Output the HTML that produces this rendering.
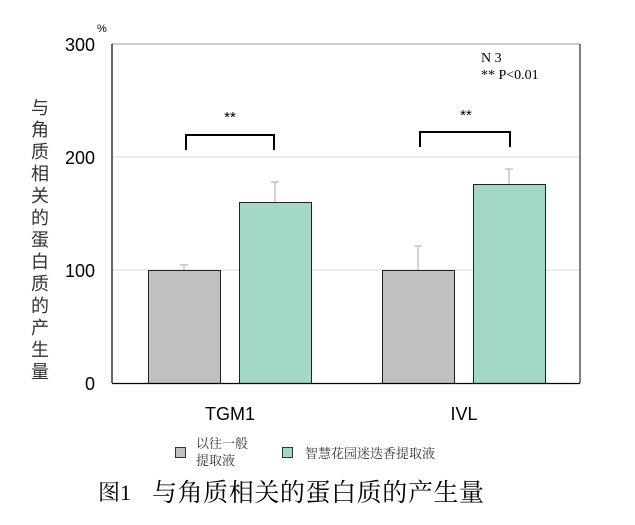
<!DOCTYPE html>
<html><head><meta charset="utf-8"><style>
body{margin:0;background:#fff;}
svg text{font-family:"Liberation Sans","Noto Sans CJK SC",sans-serif;}
.s{font-family:"Liberation Serif","Noto Serif CJK SC",serif !important;}
</style></head><body>
<svg width="635" height="520" viewBox="0 0 635 520" xmlns="http://www.w3.org/2000/svg">
<rect width="635" height="520" fill="#fff"/>
<line x1="112" y1="44" x2="580" y2="44" stroke="#999" stroke-width="1"/>
<line x1="112" y1="157" x2="580" y2="157" stroke="#d9d9d9" stroke-width="1"/>
<line x1="112" y1="270" x2="580" y2="270" stroke="#d9d9d9" stroke-width="1"/>
<line x1="580" y1="44" x2="580" y2="383" stroke="#000" stroke-width="1"/>
<line x1="112" y1="44" x2="112" y2="383" stroke="#000" stroke-width="1.2"/>
<g stroke="#aaa" stroke-width="1">
<line x1="184" y1="265" x2="184" y2="270"/><line x1="180" y1="265" x2="188" y2="265"/>
<line x1="275" y1="182" x2="275" y2="202"/><line x1="271" y1="182" x2="279" y2="182"/>
<line x1="418" y1="246" x2="418" y2="270"/><line x1="414" y1="246" x2="422" y2="246"/>
<line x1="509" y1="169" x2="509" y2="184"/><line x1="505" y1="169" x2="513" y2="169"/>
</g>
<g stroke="#222" stroke-width="1">
<rect x="148.5" y="270.5" width="72" height="113" fill="#c0c0c0"/>
<rect x="239.5" y="202.5" width="72" height="181" fill="#a3d8c6"/>
<rect x="382.5" y="270.5" width="72" height="113" fill="#c0c0c0"/>
<rect x="473.5" y="184.5" width="72" height="199" fill="#a3d8c6"/>
</g>
<line x1="112" y1="383.5" x2="580" y2="383.5" stroke="#000" stroke-width="1.2"/>
<g fill="none" stroke="#000" stroke-width="2">
<path d="M186 150 V135 H274 V150"/>
<path d="M420 147 V132 H510 V147"/>
</g>
<g font-size="15" fill="#000" text-anchor="middle">
<text x="230" y="122">**</text>
<text x="466" y="120">**</text>
</g>
<g font-size="18" fill="#000" text-anchor="end">
<text x="95" y="51">300</text>
<text x="95" y="164">200</text>
<text x="95" y="277">100</text>
<text x="95" y="390">0</text>
</g>
<text x="97" y="32" font-size="11">%</text>
<text class="s" x="481" y="62" font-size="14">N 3</text>
<text class="s" x="481" y="79" font-size="14">** P&lt;0.01</text>
<g font-size="18" fill="#000" text-anchor="middle">
<text x="230" y="420">TGM1</text>
<text x="464" y="420">IVL</text>
</g>
<g font-size="18" fill="#333" text-anchor="middle">
<text x="40" y="114">与</text><text x="40" y="136">角</text><text x="40" y="158">质</text>
<text x="40" y="180">相</text><text x="40" y="202">关</text><text x="40" y="224">的</text>
<text x="40" y="246">蛋</text><text x="40" y="268">白</text><text x="40" y="290">质</text>
<text x="40" y="312">的</text><text x="40" y="334">产</text><text x="40" y="356">生</text>
<text x="40" y="378">量</text>
</g>
<rect x="175.5" y="447.5" width="10" height="10" fill="#c0c0c0" stroke="#333"/>
<rect x="282.5" y="447.5" width="10" height="10" fill="#a3d8c6" stroke="#333"/>
<text class="s" x="196" y="448" font-size="13" fill="#333">以往一般</text>
<text class="s" x="196" y="465" font-size="13" fill="#333">提取液</text>
<text class="s" x="305" y="458" font-size="13" fill="#333">智慧花园迷迭香提取液</text>
<text class="s" x="98" y="500" font-size="22" fill="#000">图1</text>
<text class="s" x="152" y="501" font-size="25" fill="#000" textLength="332">与角质相关的蛋白质的产生量</text>
</svg>
</body></html>
